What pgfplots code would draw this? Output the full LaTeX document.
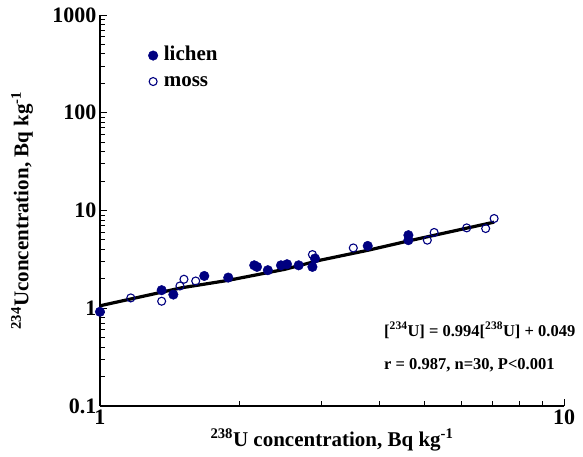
\documentclass[border=0pt]{standalone}
\usepackage{pgfplots}
\pgfplotsset{compat=1.18}
\usepackage{fontspec}
\setmainfont{Liberation Serif}
\definecolor{navy}{RGB}{0,0,128}

\begin{document}
\begin{tikzpicture}
  \begin{axis}[
      scale only axis, width=464bp, height=391bp,
      xmode=log, ymode=log,
      xmin=1, xmax=10, ymin=0.1, ymax=1000,
      axis lines=left, axis line style={-, line width=1.2pt},
      xtick={1,10}, xticklabels={1,10},
      minor xtick={2,3,4,5,6,7,8,9},
      ytick={0.1,1,10,100,1000}, yticklabels={0.1,1,10,100,1000},
      minor ytick={0.2,0.3,0.4,0.5,0.6,0.7,0.8,0.9,2,3,4,5,6,7,8,9,
        20,30,40,50,60,70,80,90,200,300,400,500,600,700,800,900},
      tick align=inside, major tick length=7bp, minor tick length=5bp,
      tick style={black, line width=0.9pt},
      tick label style={font=\fontsize{22bp}{26bp}\selectfont\bfseries},
      label style={font=\fontsize{21bp}{25bp}\selectfont\bfseries},
      xlabel={\textsuperscript{238}U concentration, Bq kg\textsuperscript{-1}},
      ylabel={\textsuperscript{234}Uconcentration, Bq kg\textsuperscript{-1}},
      xlabel style={at={(axis description cs:0.5,-0.087)}, anchor=center},
      ylabel style={at={(axis description cs:-0.168,0.5)}, anchor=center},
      legend style={draw=none, fill=none, at={(axis description cs:0.095,0.93)},
        anchor=north west, font=\fontsize{21bp}{25bp}\selectfont\bfseries,
        nodes={text height=14bp, text depth=4bp}, row sep=4bp},
      legend cell align=left,
      legend image code/.code={
        \draw[#1] plot coordinates {(0cm,0cm)};
        \path (-0.2cm,0cm) (0.3cm,0cm);
      },
      clip=false,
    ]

    % fitted line
    \addplot[black, line width=3.2bp, no marks, forget plot] coordinates {
      (1,1.06) (1.5,1.62) (1.89,1.93) (2.5,2.5) (2.98,3.1)
      (3.78,3.92) (4.62,4.88) (7.07,7.6)
    };

    % lichen
    \addplot[only marks, mark=*, mark size=4.8bp,
      mark options={draw=navy, fill=navy}] coordinates {
      (1.00,0.92) (1.358,1.53) (1.439,1.38) (1.678,2.14) (1.89,2.06)
      (2.15,2.75) (2.18,2.65) (2.30,2.45) (2.455,2.75) (2.53,2.82)
      (2.68,2.75) (2.87,2.65) (2.906,3.23) (3.776,4.34) (4.62,5.59)
      (4.62,4.97)
    };
    \addlegendentry{lichen}

    % moss
    \addplot[only marks, mark=o, mark size=4bp,
      mark options={draw=navy, line width=1.1bp}] coordinates {
      (1.165,1.275) (1.358,1.18) (1.487,1.69) (1.517,1.98) (1.608,1.90)
      (2.87,3.54) (3.515,4.14) (5.075,4.97) (5.25,5.96) (6.17,6.64)
      (6.78,6.54) (7.07,8.28)
    };
    \addlegendentry{moss}

    \node[anchor=west, font=\fontsize{16.5bp}{20bp}\selectfont\bfseries]
      at (axis description cs:0.605,0.194)
      {[\textsuperscript{234}U] = 0.994[\textsuperscript{238}U] + 0.049};
    \node[anchor=west, font=\fontsize{16.5bp}{20bp}\selectfont\bfseries]
      at (axis description cs:0.605,0.105)
      {r = 0.987, n=30, P<0.001};
  \end{axis}
  \path (current axis.south west) ++(-100bp,-51bp) rectangle ++(583bp,457bp);
\end{tikzpicture}
\end{document}
